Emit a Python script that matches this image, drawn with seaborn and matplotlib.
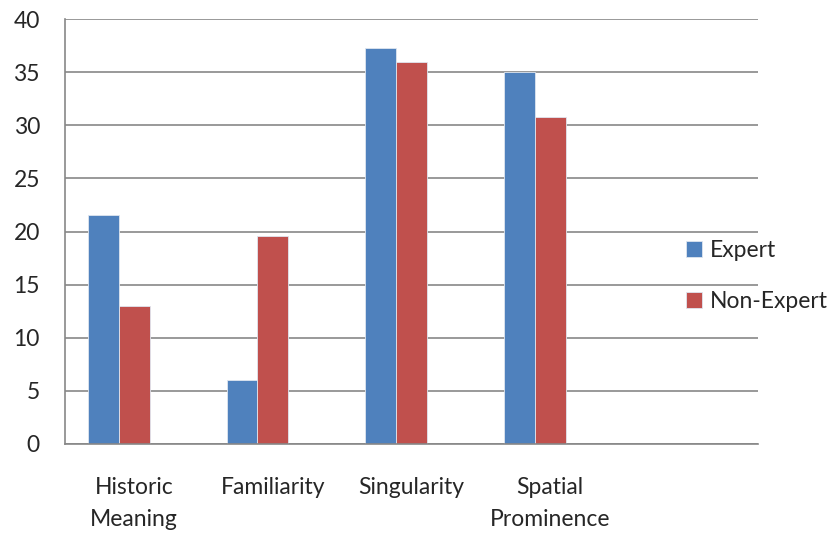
import pandas as pd
import numpy as np
import seaborn as sns
import matplotlib.pyplot as plt

# chart values
categories = ['Historic\nMeaning', 'Familiarity', 'Singularity', 'Spatial\nProminence']
expert = [21.6, 6.0, 37.3, 35.0]
non_expert = [13.0, 19.6, 36.0, 30.8]
series = ['Expert', 'Non-Expert']

# excel layout has an empty 5th category and an empty 3rd series
order = categories + ['']
hue_order = series + ['_empty']

df = pd.DataFrame({
    'category': categories * 2,
    'value': expert + non_expert,
    'series': [series[0]] * 4 + [series[1]] * 4,
})

sns.set_style('white')
plt.rcParams['font.family'] = ['Lato', 'DejaVu Sans']

fig = plt.figure(figsize=(8.35, 5.33), dpi=100)
ax = fig.add_axes([0.0778, 0.167, 0.830, 0.797])

sns.barplot(data=df, x='category', y='value', hue='series', order=order,
            hue_order=hue_order, palette=['#4F81BD', '#C0504D', '#9BBB59'],
            width=0.667, saturation=1, legend=False, linewidth=0.6,
            edgecolor='#dfe6f0', ax=ax)

ax.set_ylim(0, 40)
ax.set_yticks(range(0, 41, 5))
ax.yaxis.grid(True, color='#878787', linewidth=1.2)
ax.set_axisbelow(True)
for s in ['top', 'right']:
    ax.spines[s].set_visible(False)
for s in ['left', 'bottom']:
    ax.spines[s].set_color('#878787')
    ax.spines[s].set_linewidth(1.2)

ax.set_xlabel('')
ax.set_ylabel('')
ax.tick_params(axis='y', length=0, pad=18, labelsize=16.5)
ax.tick_params(axis='x', length=0, pad=24, labelsize=16.5)
for t in ax.get_xticklabels():
    t.set_linespacing(1.6)

ax.legend(handles=ax.containers[:2], labels=series, frameon=False,
          loc='center left', bbox_to_anchor=(0.81, 0.482),
          bbox_transform=fig.transFigure, fontsize=16.5,
          handlelength=0.7, handleheight=0.7, handletextpad=0.35,
          labelspacing=1.3, borderaxespad=0)

fig.savefig('out.png', dpi=100)
